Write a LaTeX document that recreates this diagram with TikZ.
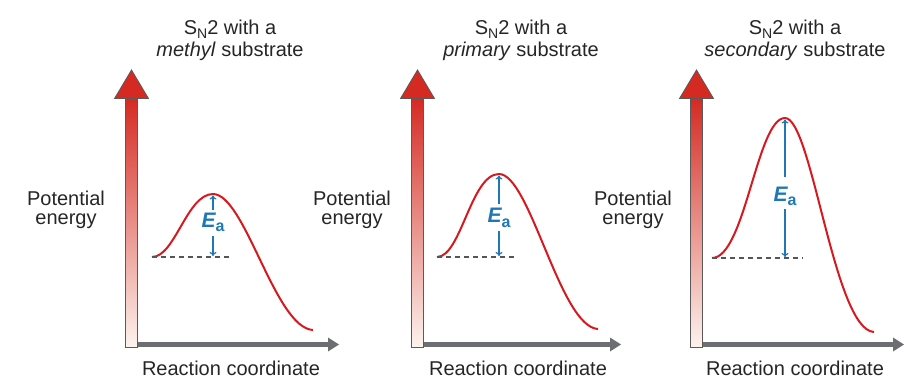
\documentclass[tikz,border=0pt]{standalone}
\usepackage{fontspec}
\setmainfont{Liberation Sans}
\usetikzlibrary{arrows.meta}
\definecolor{curvered}{HTML}{D7191F}
\definecolor{eablue}{HTML}{1F78B4}
\definecolor{axgray}{HTML}{6D6E71}
\definecolor{dashgray}{HTML}{555555}
\definecolor{shafttop}{HTML}{D42A22}
\definecolor{shaftmid}{HTML}{E97E60}
\definecolor{shaftbot}{HTML}{FDF3EE}
\definecolor{edgegray}{HTML}{5A5A5A}
\newcommand{\SNtwo}{S\raisebox{-4pt}{\fontsize{14}{14}\selectfont N}2}
\newcommand{\Eact}{{\fontsize{21}{24}\selectfont\bfseries\itshape E}\raisebox{-4.5pt}{\fontsize{16}{16}\selectfont\bfseries a}}
\begin{document}
\begin{tikzpicture}[x=1pt,y=-1pt,
  txt/.style={inner sep=0pt, font=\fontsize{20}{24}\selectfont, text=black!85, anchor=base},
  ealabel/.style={inner sep=0pt, text=eablue, anchor=base},
  eaarrow/.style={draw=eablue, line width=1.2pt, -{To[length=4pt,width=7pt]}},
  energycurve/.style={draw=curvered, line width=2pt},
  baseline dash/.style={draw=dashgray, line width=1.4pt, dash pattern=on 5pt off 4pt},
  xaxis/.style={draw=axgray, line width=5pt},
  xhead/.style={fill=axgray},
  shaft/.style={top color=shafttop, middle color=shaftmid, bottom color=shaftbot},
  shaftedge/.style={draw=edgegray, line width=0.8pt},
  yhead/.style={fill=shafttop, draw=edgegray, line width=0.8pt, line join=miter}]
\useasboundingbox (0,0) rectangle (923,388);

% ---------- Panel 1: methyl ----------
\draw[xaxis] (137.5,344.5) -- (330,344.5);
\fill[xhead] (328,337.5) -- (339,344.5) -- (328,351.5) -- cycle;
\shade[shaft] (125.5,98) rectangle (137.5,347.5);
\draw[shaftedge] (125.5,98) rectangle (137.5,347.5);
\filldraw[yhead] (114.5,98.5) -- (131.5,70) -- (148.5,98.5) -- cycle;

\draw[energycurve] (152,257) .. controls (175,257) and (187,194) .. (213,194)
   .. controls (245,194) and (275,328) .. (313,330);
\draw[baseline dash] (152,257) -- (230,257);
\node[ealabel] (ea1) at (213,227) {\Eact};
\coordinate (pk1) at (213,195.5);
\coordinate (b1) at (213,256);
\coordinate (u1) at (213,210);
\coordinate (l1) at (213,236);
\draw[eaarrow] (u1) -- (pk1);
\draw[eaarrow] (l1) -- (b1);

\node[txt] (t1a) at (230,34.5) {\SNtwo{} with a};
\node[txt] (t1b) at (230,56.5) {\textit{methyl} substrate};
\node[txt] (p1a) at (66,205) {Potential};
\node[txt] (p1b) at (66,224) {energy};
\node[txt] (r1) at (231,375) {Reaction coordinate};

% ---------- Panel 2: primary ----------
\draw[xaxis] (423.5,344.5) -- (612,344.5);
\fill[xhead] (610,337.5) -- (621,344.5) -- (610,351.5) -- cycle;
\shade[shaft] (411.5,98) rectangle (423.5,347.5);
\draw[shaftedge] (411.5,98) rectangle (423.5,347.5);
\filldraw[yhead] (400.5,98.5) -- (417.5,70) -- (434.5,98.5) -- cycle;

\draw[energycurve] (437,257) .. controls (461,257) and (471,174) .. (499,174)
   .. controls (530,174) and (560,327) .. (598,329);
\draw[baseline dash] (437,257) -- (516,257);
\node[ealabel] (ea2) at (499,222.5) {\Eact};
\coordinate (pk2) at (499,175.5);
\coordinate (b2) at (499,256);
\coordinate (u2) at (499,204);
\coordinate (l2) at (499,231);
\draw[eaarrow] (u2) -- (pk2);
\draw[eaarrow] (l2) -- (b2);

\node[txt] (t2a) at (521,34.5) {\SNtwo{} with a};
\node[txt] (t2b) at (521,56.5) {\textit{primary} substrate};
\node[txt] (p2a) at (352,205) {Potential};
\node[txt] (p2b) at (352,224) {energy};
\node[txt] (r2) at (518,375) {Reaction coordinate};

% ---------- Panel 3: secondary ----------
\draw[xaxis] (702.5,344.5) -- (895,344.5);
\fill[xhead] (893,337.5) -- (904,344.5) -- (893,351.5) -- cycle;
\shade[shaft] (690.5,98) rectangle (702.5,347.5);
\draw[shaftedge] (690.5,98) rectangle (702.5,347.5);
\filldraw[yhead] (679.5,98.5) -- (696.5,70) -- (713.5,98.5) -- cycle;

\draw[energycurve] (712,258) .. controls (745,258) and (757,118) .. (785,118)
   .. controls (812,118) and (834,330) .. (874,332);
\draw[baseline dash] (712,258) -- (803,258);
\node[ealabel] (ea3) at (785,201) {\Eact};
\coordinate (pk3) at (785,119.5);
\coordinate (b3) at (785,257);
\coordinate (u3) at (785,177);
\coordinate (l3) at (785,209);
\draw[eaarrow] (u3) -- (pk3);
\draw[eaarrow] (l3) -- (b3);

\node[txt] (t3a) at (795,34.5) {\SNtwo{} with a};
\node[txt] (t3b) at (795,56.5) {\textit{secondary} substrate};
\node[txt] (p3a) at (633,205) {Potential};
\node[txt] (p3b) at (633,224) {energy};
\node[txt] (r3) at (795,375) {Reaction coordinate};
\end{tikzpicture}
\end{document}
